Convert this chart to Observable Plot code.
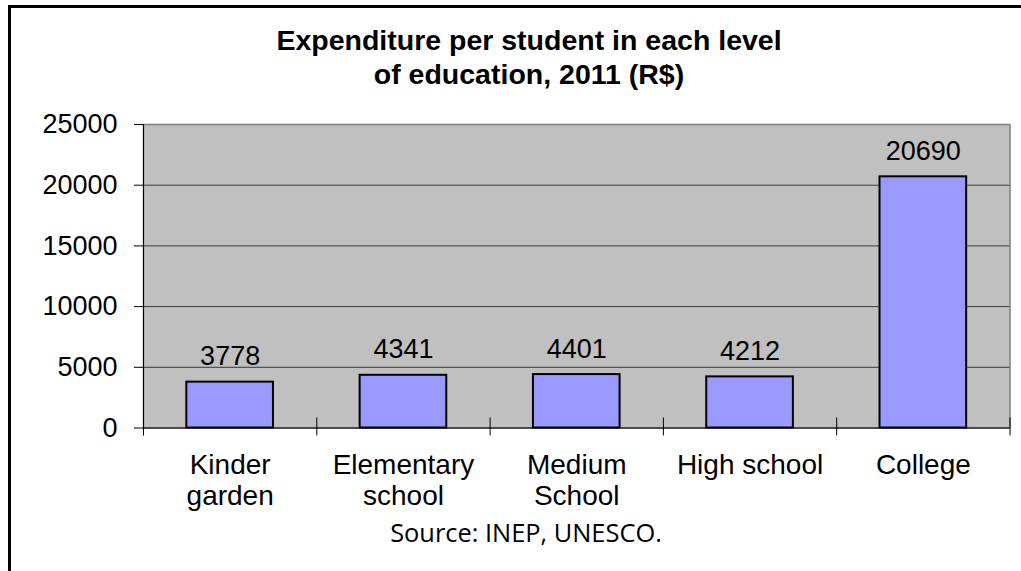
<!DOCTYPE html>
<html>
<head>
<meta charset="utf-8">
<script src="https://cdn.jsdelivr.net/npm/d3@7"></script>
<script src="https://cdn.jsdelivr.net/npm/@observablehq/plot@0.6"></script>
<style>
  html, body { margin: 0; padding: 0; background: #fff; }
  #wrap { position: relative; width: 1021px; height: 571px; overflow: hidden; background: #fff; }
  #border { position: absolute; left: 8px; top: 5px; width: 1100px; height: 700px; border-top: 3px solid #000; border-left: 3px solid #000; }
  #title { position: absolute; left: 229px; width: 600px; top: 23px; text-align: center;
    font-family: "Liberation Sans", Arial, sans-serif; font-weight: bold; font-size: 28.5px; line-height: 34px; color: #000; }
  #source { position: absolute; left: 326px; width: 400px; top: 514px; text-align: center;
    font-family: "Open Sans", sans-serif; font-size: 25.4px; line-height: 36px; color: #000; }
  #chart { position: absolute; left: 0; top: 0; }
</style>
</head>
<body>
<div id="wrap">
  <div id="chart"></div>
  <div id="border"></div>
  <div id="title">Expenditure per student in each level<br>of education, 2011 (R$)</div>
  <div id="source">Source: INEP, UNESCO.</div>
</div>
<script>
const categories = ["Kinder\ngarden", "Elementary\nschool", "Medium\nSchool", "High school", "College"];
const values = [3778, 4341, 4401, 4212, 20690];
const yTicks = [0, 5000, 10000, 15000, 20000, 25000];

const data = categories.map((c, i) => ({category: c, index: i, value: values[i]}));
const boundaries = d3.range(categories.length + 1);
const font = '"Liberation Sans", Arial, sans-serif';

const chart = Plot.plot({
  width: 1021,
  height: 571,
  marginLeft: 143,
  marginRight: 11.5,
  marginTop: 124,
  marginBottom: 143.5,
  style: {fontFamily: font, background: "transparent", overflow: "visible"},
  x: {domain: [0, categories.length], axis: null},
  y: {domain: [0, 25000], axis: null},
  marks: [
    Plot.frame({fill: "#c0c0c0", stroke: "#808080", strokeWidth: 1.5}),
    Plot.ruleY(yTicks.slice(1, -1), {y: d => d, stroke: "#3a3a3a", strokeWidth: 1}),
    Plot.ruleX([0], {stroke: "#000", strokeWidth: 1}),
    Plot.axisY(yTicks, {
      tickSize: 9, tickPadding: 17, fontSize: 27, stroke: "#000", strokeWidth: 1,
      fill: "#000", tickFormat: d => String(d), label: null
    }),
    Plot.rectY(data, {
      x1: d => d.index + 0.25, x2: d => d.index + 0.75, y1: 0, y2: "value",
      fill: "#9999ff", stroke: "#000", strokeWidth: 2
    }),
    Plot.ruleY([0], {stroke: "#000", strokeWidth: 1}),
    Plot.ruleX(boundaries, {x: d => d, y1: 0, y2: 0, insetTop: -10, insetBottom: -8, stroke: "#000", strokeWidth: 1}),
    Plot.text(data, {
      x: d => d.index + 0.5, y: "value", text: d => String(d.value),
      lineAnchor: "bottom", dy: -17, fontSize: 27, fill: "#000"
    }),
    Plot.text(data, {
      x: d => d.index + 0.5, y: 0, text: "category",
      lineAnchor: "top", dy: 23.8, lineHeight: 1.107, fontSize: 28, fill: "#000"
    })
  ]
});
document.getElementById("chart").appendChild(chart);
</script>
</body>
</html>
